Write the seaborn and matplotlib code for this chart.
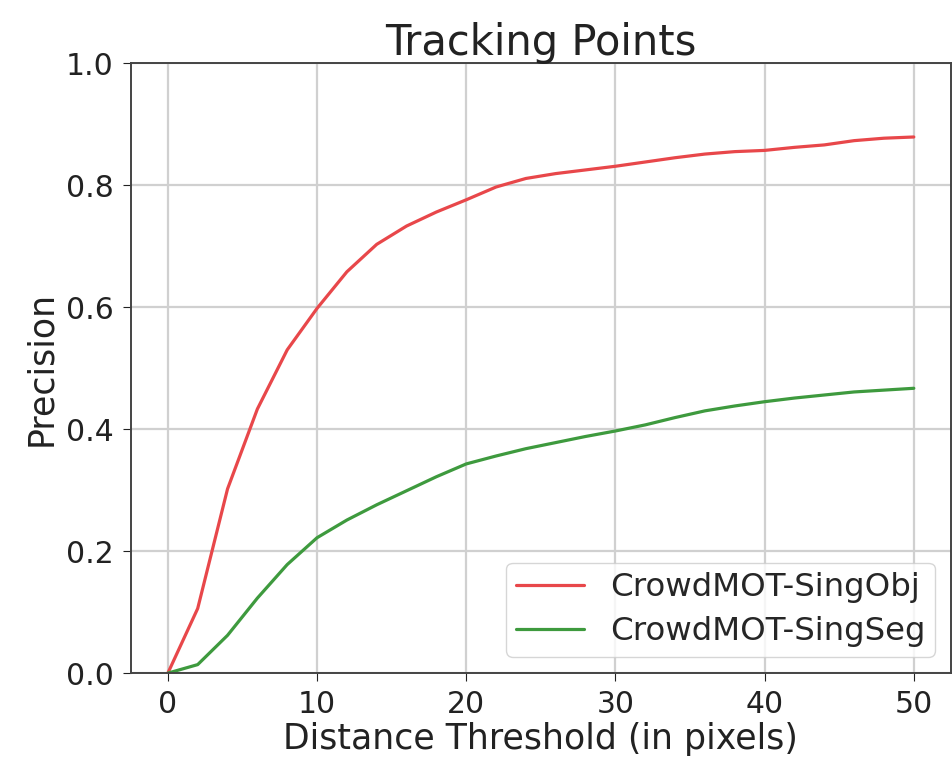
import matplotlib
matplotlib.use("Agg")
import matplotlib.pyplot as plt
import seaborn as sns
import pandas as pd

thresholds = [0, 2, 4, 6, 8, 10, 12, 14, 16, 18, 20, 22, 24, 26, 28, 30,
              32, 34, 36, 38, 40, 42, 44, 46, 48, 50]
sing_obj = [0.0, 0.106, 0.302, 0.433, 0.53, 0.598, 0.658, 0.703, 0.733,
            0.756, 0.776, 0.797, 0.811, 0.819, 0.825, 0.831, 0.838, 0.845,
            0.851, 0.855, 0.857, 0.862, 0.866, 0.873, 0.877, 0.879]
sing_seg = [0.0, 0.014, 0.062, 0.123, 0.178, 0.222, 0.251, 0.276, 0.299,
            0.322, 0.343, 0.356, 0.368, 0.378, 0.388, 0.397, 0.407, 0.419,
            0.43, 0.438, 0.445, 0.451, 0.456, 0.461, 0.464, 0.467]
series_names = ["CrowdMOT-SingObj", "CrowdMOT-SingSeg"]

df = pd.concat([
    pd.DataFrame({"x": thresholds, "y": sing_obj, "method": series_names[0]}),
    pd.DataFrame({"x": thresholds, "y": sing_seg, "method": series_names[1]}),
])

sns.set_style("whitegrid")
plt.rcParams["font.family"] = ["DejaVu Sans"]

fig = plt.figure(figsize=(9.53, 7.80), dpi=100)
ax = fig.add_axes([0.137, 0.137, 0.861, 0.782])
sns.lineplot(data=df, x="x", y="y", hue="method",
             palette=["#e8474a", "#3e9a3e"], linewidth=2.3, ax=ax)

ax.set_xlim(-2.5, 52.5)
ax.set_ylim(0, 1.0)
ax.set_xticks([0, 10, 20, 30, 40, 50])
ax.set_yticks([0.0, 0.2, 0.4, 0.6, 0.8, 1.0])
ax.set_yticklabels(["0.0", "0.2", "0.4", "0.6", "0.8", "1.0"])
ax.tick_params(axis="both", labelsize=21.5, colors="#222222", length=6,
               pad=6, direction="out", bottom=True, left=True)
ax.grid(True, color="#d0d0d0", linewidth=1.6)
for s in ax.spines.values():
    s.set_edgecolor("#444444")
    s.set_linewidth(1.4)

ax.set_title("Tracking Points", fontsize=30, color="#222222", pad=6)
ax.set_xlabel("Distance Threshold (in pixels)", fontsize=25, color="#222222", labelpad=2)
ax.set_ylabel("Precision", fontsize=25, color="#222222", labelpad=6)

leg = ax.legend(loc="lower right", fontsize=23.3, frameon=True,
                handlelength=2.1, borderpad=0.3, labelspacing=0.4,
                handletextpad=0.8)
leg.get_frame().set_edgecolor("#cccccc")

fig.savefig("out.png", dpi=100)
